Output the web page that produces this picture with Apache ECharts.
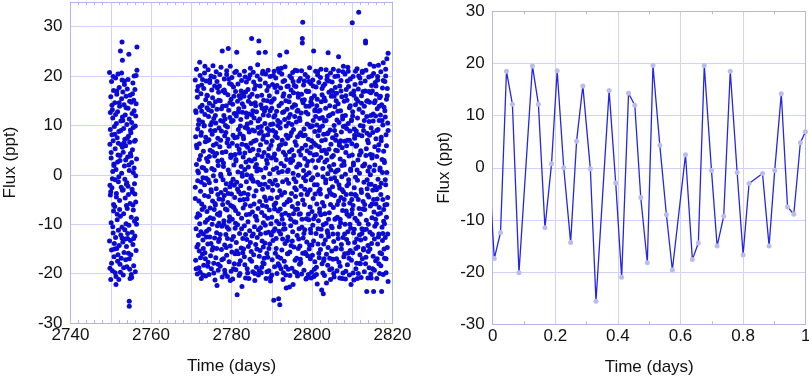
<!DOCTYPE html>
<html>
<head>
<meta charset="utf-8">
<script src="https://cdn.jsdelivr.net/npm/echarts@6.0.0/dist/echarts.min.js"></script>
<style>
  html, body { margin: 0; padding: 0; background: #fff; }
  #chart { width: 809px; height: 378px; }
</style>
</head>
<body>
<div id="chart"></div>
<script>
// left panel, first block of observations (days, ppt)
const sector1Time = [
  2749.7,2749.7,2749.8,2749.8,2749.9,2749.9,
  2750.0,2750.0,2750.1,2750.1,2750.2,2750.2,2750.3,2750.3,2750.4,2750.4,2750.5,2750.5,2750.6,2750.6,2750.7,2750.7,2750.8,2750.8,2750.9,2750.9,
  2751.0,2751.0,2751.1,2751.1,2751.2,2751.2,2751.3,2751.3,2751.4,2751.4,2751.5,2751.5,2751.6,2751.6,2751.7,2751.7,2751.8,2751.8,2751.9,2751.9,
  2752.0,2752.0,2752.1,2752.1,2752.2,2752.2,2752.3,2752.3,2752.4,2752.4,2752.5,2752.5,2752.6,2752.6,2752.7,2752.7,2752.8,2752.8,2752.9,2752.9,
  2753.0,2753.0,2753.1,2753.1,2753.2,2753.2,2753.3,2753.3,2753.4,2753.4,2753.5,2753.5,2753.6,2753.6,2753.7,2753.7,2753.8,2753.8,2753.9,2753.9,
  2754.0,2754.0,2754.1,2754.1,2754.2,2754.2,2754.3,2754.3,2754.4,2754.4,2754.5,2754.5,2754.6,2754.6,2754.7,2754.7,2754.8,2754.8,2754.9,2754.9,
  2755.0,2755.0,2755.1,2755.1,2755.2,2755.2,2755.3,2755.3,2755.4,2755.4,2755.5,2755.5,2755.6,2755.6,2755.7,2755.7,2755.8,2755.8,2755.9,2755.9,
  2756.0,2756.0,2756.1,2756.1,2756.2,2756.2,2756.3,2756.3,2756.4,2756.4,2756.5,2756.5,
  2752.8,2752.9,2754.6,2754.6,
  2749.8,2749.9,
  2750.0,2750.1,2750.2,2750.3,2750.4,2750.5,2750.6,2750.7,2750.8,2750.9,
  2751.0,2751.1,2751.2,2751.3,2751.4,2751.5,2751.6,2751.7,2751.8,2751.9,
  2752.0,2752.1,2752.2,2752.3,2752.4,2752.5,2752.6,2752.7,2752.8,2752.9,
  2753.0,2753.1,2753.2,2753.3,2753.4,2753.5,2753.6,2753.7,2753.8,2753.9,
  2754.0,2754.1,2754.2,2754.3,2754.4,2754.5,2754.6,2754.7,2754.8,2754.9,
  2755.0,2755.1,2755.2,2755.3,2755.4,2755.5,2755.6,2755.7,2755.8,2755.9,
  2756.0,2756.1,2756.2,2756.3,2756.4
];
const sector1Flux = [
  20.7,-13.4,6.2,-18.9,-4.1,12.6,
  -21.2,15.8,3.4,-9.7,18.9,-15.2,8.1,-2.6,13.2,-19.4,0.7,11.5,-11.8,6.9,-7.3,17.1,-16.6,2.2,9.8,-13.9,
  14.6,-6.4,-19.8,5.3,19.6,-12.7,1.1,-22.2,10.4,-3.8,16.3,-14.9,7.5,-9.1,12.8,-17.5,4.0,20.4,-1.4,-11.2,
  -21.2,8.8,-14.3,17.7,-5.2,13.9,-18.1,2.9,25.1,-8.4,10.9,-12.2,6.1,-16.9,15.4,0.3,-10.6,19.2,-3.1,11.7,
  -13.6,16.8,4.6,-20.3,9.4,-7.9,14.2,-15.7,1.8,18.3,-11.1,7.2,-4.7,12.1,-17.2,5.9,-9.9,15.9,-1.9,-14.5,
  10.2,-18.6,17.4,-6.8,3.6,-12.9,13.5,-2.3,7.8,-15.9,24.4,-10.2,0.9,11.3,-19.1,6.6,-5.8,16.1,-13.3,9.1,
  -16.2,8.5,-8.6,14.7,-20.8,2.5,12.4,-11.6,5.1,-3.5,18.6,-14.1,9.6,-7.1,15.1,-18.4,1.4,13.0,-9.4,6.8,
  -12.4,17.3,-19.6,7.0,11.9,-5.5,20.1,-15.3,3.2,-8.9,21.2,25.9,
  26.9,23.2,-25.6,-26.6,
  -2.1,9.2,
  -3.4,4.5,-17.9,14.1,-0.8,-10.5,19.9,-6.0,1.9,-15.0,
  8.2,-1.0,12.2,-20.6,-4.5,17.0,-8.0,2.6,-16.2,6.4,
  -0.4,14.6,-7.0,3.9,-19.7,9.0,-2.5,20.6,-12.8,5.6,
  11.0,-3.0,-18.8,6.5,19.0,-0.9,-13.0,3.0,13.6,-6.2,
  -1.6,7.4,-11.9,19.3,-4.0,2.0,-17.0,14.9,-21.0,4.3,
  3.8,-20.2,10.6,-2.9,16.4,-6.1,0.5,-12.9,20.0,-1.8,
  -3.9,9.9,-0.2,14.4,-10.0
];

// left panel, second block of observations
const sector2Time = [
  2771.0,2771.0,2771.1,2771.1,2771.2,2771.2,2771.3,2771.3,2771.4,2771.4,2771.5,2771.5,2771.6,2771.6,2771.7,2771.7,2771.8,2771.8,2771.9,2771.9,
  2772.0,2772.0,2772.1,2772.1,2772.2,2772.2,2772.3,2772.3,2772.4,2772.4,2772.5,2772.5,2772.6,2772.6,2772.7,2772.7,2772.8,2772.8,2772.9,2772.9,
  2773.0,2773.0,2773.1,2773.1,2773.2,2773.2,2773.3,2773.3,2773.4,2773.4,2773.5,2773.5,2773.6,2773.6,2773.7,2773.7,2773.8,2773.8,2773.9,2773.9,
  2774.0,2774.0,2774.1,2774.1,2774.2,2774.2,2774.3,2774.3,2774.4,2774.4,2774.5,2774.5,2774.6,2774.6,2774.7,2774.7,2774.8,2774.8,2774.9,2774.9,
  2775.0,2775.0,2775.1,2775.1,2775.2,2775.2,2775.3,2775.3,2775.4,2775.4,2775.5,2775.5,2775.6,2775.6,2775.7,2775.7,2775.8,2775.8,2775.9,2775.9,
  2776.0,2776.0,2776.1,2776.1,2776.2,2776.2,2776.3,2776.3,2776.4,2776.4,2776.5,2776.5,2776.6,2776.6,2776.7,2776.7,2776.8,2776.8,2776.9,2776.9,
  2777.0,2777.0,2777.1,2777.1,2777.2,2777.2,2777.3,2777.3,2777.4,2777.4,2777.5,2777.5,2777.6,2777.6,2777.7,2777.7,2777.8,2777.8,2777.9,2777.9,
  2778.0,2778.0,2778.1,2778.1,2778.2,2778.2,2778.3,2778.3,2778.4,2778.4,2778.5,2778.5,2778.6,2778.6,2778.7,2778.7,2778.8,2778.8,2778.9,2778.9,
  2779.0,2779.0,2779.1,2779.1,2779.2,2779.2,2779.3,2779.3,2779.4,2779.4,2779.5,2779.5,2779.6,2779.6,2779.7,2779.7,2779.8,2779.8,2779.9,2779.9,
  2780.0,2780.0,2780.1,2780.1,2780.2,2780.2,2780.3,2780.3,2780.4,2780.4,2780.5,2780.5,2780.6,2780.6,2780.7,2780.7,2780.8,2780.8,2780.9,2780.9,
  2781.0,2781.0,2781.1,2781.1,2781.2,2781.2,2781.3,2781.3,2781.4,2781.4,2781.5,2781.5,2781.6,2781.6,2781.7,2781.7,2781.8,2781.8,2781.9,2781.9,
  2782.0,2782.0,2782.1,2782.1,2782.2,2782.2,2782.3,2782.3,2782.4,2782.4,2782.5,2782.5,2782.6,2782.6,2782.7,2782.7,2782.8,2782.8,2782.9,2782.9,
  2783.0,2783.0,2783.1,2783.1,2783.2,2783.2,2783.3,2783.3,2783.4,2783.4,2783.5,2783.5,2783.6,2783.6,2783.7,2783.7,2783.8,2783.8,2783.9,2783.9,
  2784.0,2784.0,2784.1,2784.1,2784.2,2784.2,2784.3,2784.3,2784.4,2784.4,2784.5,2784.5,2784.6,2784.6,2784.7,2784.7,2784.8,2784.8,2784.9,2784.9,
  2785.0,2785.0,2785.1,2785.1,2785.2,2785.2,2785.3,2785.3,2785.4,2785.4,2785.5,2785.5,2785.6,2785.6,2785.7,2785.7,2785.8,2785.8,2785.9,2785.9,
  2786.0,2786.0,2786.1,2786.1,2786.2,2786.2,2786.3,2786.3,2786.4,2786.4,2786.5,2786.5,2786.6,2786.6,2786.7,2786.7,2786.8,2786.8,2786.9,2786.9,
  2787.0,2787.0,2787.1,2787.1,2787.2,2787.2,2787.3,2787.3,2787.4,2787.4,2787.5,2787.5,2787.6,2787.6,2787.7,2787.7,2787.8,2787.8,2787.9,2787.9,
  2788.0,2788.0,2788.1,2788.1,2788.2,2788.2,2788.3,2788.3,2788.4,2788.4,2788.5,2788.5,2788.6,2788.6,2788.7,2788.7,2788.8,2788.8,2788.9,2788.9,
  2789.0,2789.0,2789.1,2789.1,2789.2,2789.2,2789.3,2789.3,2789.4,2789.4,2789.5,2789.5,2789.6,2789.6,2789.7,2789.7,2789.8,2789.8,2789.9,2789.9,
  2790.0,2790.0,2790.1,2790.1,2790.2,2790.2,2790.3,2790.3,2790.4,2790.4,2790.5,2790.5,2790.6,2790.6,2790.7,2790.7,2790.8,2790.8,2790.9,2790.9,
  2791.0,2791.0,2791.1,2791.1,2791.2,2791.2,2791.3,2791.3,2791.4,2791.4,2791.5,2791.5,2791.6,2791.6,2791.7,2791.7,2791.8,2791.8,2791.9,2791.9,
  2792.0,2792.0,2792.1,2792.1,2792.2,2792.2,2792.3,2792.3,2792.4,2792.4,2792.5,2792.5,2792.6,2792.6,2792.7,2792.7,2792.8,2792.8,2792.9,2792.9,
  2793.0,2793.0,2793.1,2793.1,2793.2,2793.2,2793.3,2793.3,2793.4,2793.4,2793.5,2793.5,2793.6,2793.6,2793.7,2793.7,2793.8,2793.8,2793.9,2793.9,
  2794.0,2794.0,2794.1,2794.1,2794.2,2794.2,2794.3,2794.3,2794.4,2794.4,2794.5,2794.5,2794.6,2794.6,2794.7,2794.7,2794.8,2794.8,2794.9,2794.9,
  2795.0,2795.0,2795.1,2795.1,2795.2,2795.2,2795.3,2795.3,2795.4,2795.4,2795.5,2795.5,2795.6,2795.6,2795.7,2795.7,2795.8,2795.8,2795.9,2795.9,
  2796.0,2796.0,2796.1,2796.1,2796.2,2796.2,2796.3,2796.3,2796.4,2796.4,2796.5,2796.5,2796.6,2796.6,2796.7,2796.7,2796.8,2796.8,2796.9,2796.9,
  2797.0,2797.0,2797.1,2797.1,2797.2,2797.2,2797.3,2797.3,2797.4,2797.4,2797.5,2797.5,2797.6,2797.6,2797.7,2797.7,2797.8,2797.8,2797.9,2797.9,
  2798.0,2798.0,2798.1,2798.1,2798.2,2798.2,2798.3,2798.3,2798.4,2798.4,2798.5,2798.5,2798.6,2798.6,2798.7,2798.7,2798.8,2798.8,2798.9,2798.9,
  2799.0,2799.0,2799.1,2799.1,2799.2,2799.2,2799.3,2799.3,2799.4,2799.4,2799.5,2799.5,2799.6,2799.6,2799.7,2799.7,2799.8,2799.8,2799.9,2799.9,
  2800.0,2800.0,2800.1,2800.1,2800.2,2800.2,2800.3,2800.3,2800.4,2800.4,2800.5,2800.5,2800.6,2800.6,2800.7,2800.7,2800.8,2800.8,2800.9,2800.9,
  2801.0,2801.0,2801.1,2801.1,2801.2,2801.2,2801.3,2801.3,2801.4,2801.4,2801.5,2801.5,2801.6,2801.6,2801.7,2801.7,2801.8,2801.8,2801.9,2801.9,
  2802.0,2802.0,2802.1,2802.1,2802.2,2802.2,2802.3,2802.3,2802.4,2802.4,2802.5,2802.5,2802.6,2802.6,2802.7,2802.7,2802.8,2802.8,2802.9,2802.9,
  2803.0,2803.0,2803.1,2803.1,2803.2,2803.2,2803.3,2803.3,2803.4,2803.4,2803.5,2803.5,2803.6,2803.6,2803.7,2803.7,2803.8,2803.8,2803.9,2803.9,
  2804.0,2804.0,2804.1,2804.1,2804.2,2804.2,2804.3,2804.3,2804.4,2804.4,2804.5,2804.5,2804.6,2804.6,2804.7,2804.7,2804.8,2804.8,2804.9,2804.9,
  2805.0,2805.0,2805.1,2805.1,2805.2,2805.2,2805.3,2805.3,2805.4,2805.4,2805.5,2805.5,2805.6,2805.6,2805.7,2805.7,2805.8,2805.8,2805.9,2805.9,
  2806.0,2806.0,2806.1,2806.1,2806.2,2806.2,2806.3,2806.3,2806.4,2806.4,2806.5,2806.5,2806.6,2806.6,2806.7,2806.7,2806.8,2806.8,2806.9,2806.9,
  2807.0,2807.0,2807.1,2807.1,2807.2,2807.2,2807.3,2807.3,2807.4,2807.4,2807.5,2807.5,2807.6,2807.6,2807.7,2807.7,2807.8,2807.8,2807.9,2807.9,
  2808.0,2808.0,2808.1,2808.1,2808.2,2808.2,2808.3,2808.3,2808.4,2808.4,2808.5,2808.5,2808.6,2808.6,2808.7,2808.7,2808.8,2808.8,2808.9,2808.9,
  2809.0,2809.0,2809.1,2809.1,2809.2,2809.2,2809.3,2809.3,2809.4,2809.4,2809.5,2809.5,2809.6,2809.6,2809.7,2809.7,2809.8,2809.8,2809.9,2809.9,
  2810.0,2810.0,2810.1,2810.1,2810.2,2810.2,2810.3,2810.3,2810.4,2810.4,2810.5,2810.5,2810.6,2810.6,2810.7,2810.7,2810.8,2810.8,2810.9,2810.9,
  2811.0,2811.0,2811.1,2811.1,2811.2,2811.2,2811.3,2811.3,2811.4,2811.4,2811.5,2811.5,2811.6,2811.6,2811.7,2811.7,2811.8,2811.8,2811.9,2811.9,
  2812.0,2812.0,2812.1,2812.1,2812.2,2812.2,2812.3,2812.3,2812.4,2812.4,2812.5,2812.5,2812.6,2812.6,2812.7,2812.7,2812.8,2812.8,2812.9,2812.9,
  2813.0,2813.0,2813.1,2813.1,2813.2,2813.2,2813.3,2813.3,2813.4,2813.4,2813.5,2813.5,2813.6,2813.6,2813.7,2813.7,2813.8,2813.8,2813.9,2813.9,
  2814.0,2814.0,2814.1,2814.1,2814.2,2814.2,2814.3,2814.3,2814.4,2814.4,2814.5,2814.5,2814.6,2814.6,2814.7,2814.7,2814.8,2814.8,2814.9,2814.9,
  2815.0,2815.0,2815.1,2815.1,2815.2,2815.2,2815.3,2815.3,2815.4,2815.4,2815.5,2815.5,2815.6,2815.6,2815.7,2815.7,2815.8,2815.8,2815.9,2815.9,
  2816.0,2816.0,2816.1,2816.1,2816.2,2816.2,2816.3,2816.3,2816.4,2816.4,2816.5,2816.5,2816.6,2816.6,2816.7,2816.7,2816.8,2816.8,2816.9,2816.9,
  2817.0,2817.0,2817.1,2817.1,2817.2,2817.2,2817.3,2817.3,2817.4,2817.4,2817.5,2817.5,2817.6,2817.6,2817.7,2817.7,2817.8,2817.8,2817.9,2817.9,
  2818.0,2818.0,2818.1,2818.1,2818.2,2818.2,2818.3,2818.3,2818.4,2818.4,2818.5,2818.5,2818.6,2818.6,2818.7,2818.7,2818.8,2818.8,2818.9,2818.9
];
const sector2Flux = [
  19.2,-4.8,7.7,-17.3,12.6,-10.9,2.1,21.4,-14.6,5.5,-20.1,15.7,-1.2,9.3,-7.9,17.9,-12.3,0.4,-18.8,11.1,
  -15.4,6.3,22.8,-8.2,13.7,-19.7,3.9,-3.3,16.4,-11.5,8.6,-21.0,18.2,-5.9,1.5,14.1,-16.1,10.7,-0.6,-13.2,
  4.8,-12.0,17.5,-18.3,9.9,-6.5,20.6,-2.0,12.2,-15.8,6.7,-9.6,15.2,-20.5,0.9,19.0,-11.4,3.3,-7.4,13.6,
  -9.1,16.0,-14.0,2.7,21.3,-17.7,11.8,-4.4,7.1,-20.2,14.5,-1.6,18.7,-12.6,5.0,-8.7,10.1,-16.4,20.0,-3.0,
  12.9,-19.0,1.3,17.2,-10.0,8.2,-5.3,15.6,-14.7,22.1,-0.2,6.0,-17.9,11.4,-7.0,19.8,-12.8,3.8,-21.3,9.0,
  -6.1,14.8,-16.8,10.5,-2.8,20.9,-11.7,4.3,-22.4,13.3,-8.0,17.6,-4.0,7.4,-19.3,1.9,16.7,-13.5,9.5,-9.8,
  18.0,-13.0,5.7,-7.7,15.0,-18.5,0.1,11.0,-3.6,21.8,-15.1,8.9,-10.4,3.0,25.1,-20.7,13.9,-5.0,17.0,-1.0,
  -17.0,2.4,12.0,-9.3,19.4,-4.2,7.9,-14.2,16.6,-20.0,10.0,-6.9,4.7,-12.1,14.0,-1.8,20.3,-16.3,6.5,-10.6,
  9.7,-20.6,16.2,-5.6,1.0,25.6,-11.0,13.1,-17.6,5.8,-8.5,18.5,-2.4,11.6,-14.4,22.0,-6.2,3.5,-19.5,15.3,
  -3.9,10.8,-15.6,19.7,-9.0,6.4,-21.1,14.3,-0.9,8.0,-12.5,17.8,-6.6,2.0,-18.0,12.4,-4.6,20.7,-10.8,4.1,
  16.9,-7.2,3.1,-19.2,11.9,-13.7,24.8,-1.5,7.6,-24.3,14.9,-10.1,0.6,18.4,-16.0,9.2,-3.4,13.4,-20.4,5.2,
  -11.9,20.2,-5.1,8.3,-17.4,15.5,-2.2,11.2,-14.8,1.7,19.1,-8.8,6.2,-22.6,12.7,-0.3,16.5,-12.9,3.6,-6.7,
  7.3,-15.0,13.8,-3.7,21.0,-10.3,4.4,-18.2,9.6,-6.0,16.8,-20.9,2.6,12.5,-8.1,18.8,-13.1,0.0,-4.9,10.3,
  -19.9,5.6,17.3,-9.5,1.6,-14.5,12.3,19.5,-2.7,8.7,-11.3,15.8,-17.1,4.9,-6.3,21.6,-0.7,10.6,-15.5,14.4,
  2.8,27.6,-12.4,16.3,-7.5,9.1,-19.6,13.0,-1.3,20.8,-16.2,6.8,-4.3,11.5,-10.5,17.4,-21.4,3.2,14.6,-8.4,
  -14.1,18.1,-3.2,7.0,-18.7,12.8,0.8,-9.2,15.9,-12.7,4.0,22.3,-6.8,10.9,-20.3,1.2,27.1,24.7,-16.5,8.4,
  11.3,-5.4,19.3,-15.3,6.1,-10.7,14.2,-1.9,9.8,-19.8,16.1,-7.6,3.7,-13.4,20.5,-2.9,7.2,-17.8,12.1,-9.7,
  -0.5,15.1,-18.0,4.5,-8.3,-4.5,-13.8,10.4,24.8,18.6,-11.8,1.4,13.6,-21.0,6.6,-6.4,17.1,-15.9,9.4,2.3,
  -16.7,8.1,-2.5,21.2,-11.6,12.0,-19.4,5.3,16.0,-7.1,0.2,-14.0,19.9,-4.7,10.2,-20.8,14.7,-9.9,3.4,-12.2,
  13.5,-8.6,6.9,-17.2,18.3,-3.1,9.0,-13.3,1.1,20.1,-25.4,11.7,-6.1,15.4,-18.6,4.2,-10.9,17.7,-1.1,7.8,
  -5.7,19.6,-14.9,3.0,12.9,-9.4,16.8,-20.0,7.5,-2.1,10.0,-16.6,21.5,-7.3,0.5,-25.1,14.0,-11.4,5.9,-18.4,
  -26.3,24.2,9.5,-6.9,17.6,-12.0,2.3,-19.0,14.5,-4.1,20.4,-15.2,7.0,-9.0,12.6,-1.4,18.9,-21.2,4.6,-11.0,
  16.4,-10.0,1.8,-17.5,11.2,-3.6,21.9,-13.9,6.3,-7.8,15.0,-20.3,9.9,-22.9,3.1,24.9,-5.5,13.3,-16.0,0.7,
  -12.6,7.4,-19.1,18.0,-1.7,10.5,-8.2,14.8,-22.7,4.7,-15.6,20.0,-5.2,12.2,-10.3,2.5,17.2,-14.3,8.6,-3.8,
  5.1,-18.9,13.7,-6.4,20.7,-11.5,0.3,-22.2,9.2,16.6,-14.6,3.9,-9.5,18.1,-2.6,11.8,-17.3,6.7,-7.0,14.1,
  -9.6,17.9,-3.0,10.7,-16.9,1.6,21.1,-12.3,7.7,-20.5,13.1,-5.8,15.7,-0.1,-13.0,19.0,-8.0,4.8,-18.1,11.5,
  2.0,-14.4,19.5,-7.9,8.5,-17.8,12.5,-2.3,16.3,-20.1,5.4,-10.6,26.7,27.6,30.9,-5.1,14.6,-12.8,0.9,18.2,
  -19.3,9.3,-6.0,15.2,-11.1,3.3,20.3,-15.7,6.0,-1.2,12.7,-21.1,17.0,-8.9,1.9,-13.6,10.3,-4.0,19.8,-16.4,
  12.3,-3.5,7.2,-20.2,16.9,-9.1,0.4,13.9,-14.2,21.7,-6.5,4.4,-17.0,9.7,-11.7,18.5,-1.0,5.6,-19.7,15.5,
  -7.4,14.3,-16.3,2.9,19.2,-10.2,11.0,-4.8,25.1,-13.4,6.4,-20.6,16.0,-2.0,8.8,-17.6,13.2,-8.3,1.5,21.0,
  17.8,-11.9,4.1,-18.7,10.1,-5.9,15.3,-22.1,0.0,20.2,-14.0,7.9,-9.3,12.9,-3.3,18.7,-16.8,5.7,-7.6,11.4,
  -2.9,9.6,-15.1,19.7,-8.1,3.5,14.8,-12.4,-23.3,6.9,16.2,17.5,-5.6,11.6,-19.9,1.3,-24.1,-10.1,8.2,-17.4,
  15.6,-6.3,10.9,-20.4,2.6,18.4,-13.2,7.1,-1.6,13.5,-9.8,21.3,-16.1,4.3,-4.4,19.3,-11.3,8.3,-18.3,0.2,
  24.7,-14.7,11.9,-12.5,5.2,16.7,-7.7,1.7,-19.2,14.0,-3.7,9.1,-21.2,20.6,-0.8,6.2,-10.4,17.1,-15.4,3.6,
  -10.7,18.8,-2.4,7.5,-17.1,12.4,-6.6,21.4,-13.5,2.1,15.9,-20.7,9.0,-4.2,13.8,-9.0,0.6,17.7,-15.0,5.0,
  8.0,-14.8,16.5,-1.3,11.1,-19.4,4.9,-8.6,20.0,-12.0,1.0,14.4,-5.3,23.9,-17.7,10.6,-10.5,6.5,-2.7,18.0,
  -18.5,3.2,-9.7,13.0,-4.6,19.1,-14.1,8.7,-0.4,15.8,-21.0,5.5,-7.2,11.3,-12.7,20.9,-3.4,9.8,-16.6,2.7,
  14.9,-5.0,6.8,-16.0,20.4,-10.0,0.1,12.0,-19.5,4.5,-7.3,17.3,-13.1,9.4,-2.2,15.1,-18.2,7.0,-11.5,21.8,
  -13.8,10.4,-1.8,17.9,-8.4,3.8,-20.3,13.6,-5.7,8.9,19.4,-15.3,1.2,-10.8,16.4,-3.9,11.0,-17.3,6.3,-7.9,
  30.8,4.0,-15.8,12.8,-6.2,19.9,-11.8,2.4,-21.3,16.1,-2.6,9.3,-13.7,7.4,-8.8,18.3,-0.5,14.2,-19.0,5.8,
  -4.3,15.4,-17.9,6.0,-9.3,21.5,-1.1,11.5,-14.6,3.0,17.4,-20.0,8.1,32.9,-6.8,13.3,-12.2,0.3,19.6,-16.2,
  10.0,-8.0,18.6,-13.2,4.6,-20.8,14.5,-3.6,7.9,-10.9,20.7,-17.0,1.8,12.6,-5.4,16.9,-15.2,9.0,-1.5,-11.1,
  -19.6,13.9,-7.0,2.2,17.0,-12.9,27.1,26.7,21.2,-16.7,5.3,-9.2,11.8,-23.6,8.4,-2.8,-4.1,15.0,-14.3,0.8,
  6.5,-15.5,19.8,-4.5,10.8,-18.8,1.6,14.7,-11.6,22.4,-6.3,4.1,-20.1,16.6,-1.9,9.5,-13.9,18.1,-8.7,3.4,
  -12.1,17.0,-3.1,8.6,-16.5,12.3,-23.6,20.5,-7.5,0.9,14.6,-19.3,5.7,-10.4,18.7,-2.3,11.9,-17.4,7.3,-5.9,
  16.3,-9.9,3.7,-21.0,13.4,-4.9,19.2,-14.0,9.2,-0.9,22.2,-12.6,6.1,-18.0,11.0,-6.6,15.6,-2.5,-15.8,1.4,
  -7.8,12.1,-18.4,20.9,-1.7,7.6,-23.6,14.2,-10.6,3.1,17.6,-13.3,10.1,-5.0,22.7,-20.2,4.8,-9.4,13.7,-15.0,
  2.5,-16.9,18.9,-6.1,11.7,-12.7,21.4,-2.0,8.1,-19.8,15.3,-8.6,23.5,0.5,-14.7,17.5,-4.6,10.5,-21.6,24.6
];

// left panel, second block, remaining observations (one per 0.1 day)
const sector2TimeB = [
  2771.0,2771.1,2771.2,2771.3,2771.4,2771.5,2771.6,2771.7,2771.8,2771.9,
  2772.0,2772.1,2772.2,2772.3,2772.4,2772.5,2772.6,2772.7,2772.8,2772.9,
  2773.0,2773.1,2773.2,2773.3,2773.4,2773.5,2773.6,2773.7,2773.8,2773.9,
  2774.0,2774.1,2774.2,2774.3,2774.4,2774.5,2774.6,2774.7,2774.8,2774.9,
  2775.0,2775.1,2775.2,2775.3,2775.4,2775.5,2775.6,2775.7,2775.8,2775.9,
  2776.0,2776.1,2776.2,2776.3,2776.4,2776.5,2776.6,2776.7,2776.8,2776.9,
  2777.0,2777.1,2777.2,2777.3,2777.4,2777.5,2777.6,2777.7,2777.8,2777.9,
  2778.0,2778.1,2778.2,2778.3,2778.4,2778.5,2778.6,2778.7,2778.8,2778.9,
  2779.0,2779.1,2779.2,2779.3,2779.4,2779.5,2779.6,2779.7,2779.8,2779.9,
  2780.0,2780.1,2780.2,2780.3,2780.4,2780.5,2780.6,2780.7,2780.8,2780.9,
  2781.0,2781.1,2781.2,2781.3,2781.4,2781.5,2781.6,2781.7,2781.8,2781.9,
  2782.0,2782.1,2782.2,2782.3,2782.4,2782.5,2782.6,2782.7,2782.8,2782.9,
  2783.0,2783.1,2783.2,2783.3,2783.4,2783.5,2783.6,2783.7,2783.8,2783.9,
  2784.0,2784.1,2784.2,2784.3,2784.4,2784.5,2784.6,2784.7,2784.8,2784.9,
  2785.0,2785.1,2785.2,2785.3,2785.4,2785.5,2785.6,2785.7,2785.8,2785.9,
  2786.0,2786.1,2786.2,2786.3,2786.4,2786.5,2786.6,2786.7,2786.8,2786.9,
  2787.0,2787.1,2787.2,2787.3,2787.4,2787.5,2787.6,2787.7,2787.8,2787.9,
  2788.0,2788.1,2788.2,2788.3,2788.4,2788.5,2788.6,2788.7,2788.8,2788.9,
  2789.0,2789.1,2789.2,2789.3,2789.4,2789.5,2789.6,2789.7,2789.8,2789.9,
  2790.0,2790.1,2790.2,2790.3,2790.4,2790.5,2790.6,2790.7,2790.8,2790.9,
  2791.0,2791.1,2791.2,2791.3,2791.4,2791.5,2791.6,2791.7,2791.8,2791.9,
  2792.0,2792.1,2792.2,2792.3,2792.4,2792.5,2792.6,2792.7,2792.8,2792.9,
  2793.0,2793.1,2793.2,2793.3,2793.4,2793.5,2793.6,2793.7,2793.8,2793.9,
  2794.0,2794.1,2794.2,2794.3,2794.4,2794.5,2794.6,2794.7,2794.8,2794.9,
  2795.0,2795.1,2795.2,2795.3,2795.4,2795.5,2795.6,2795.7,2795.8,2795.9,
  2796.0,2796.1,2796.2,2796.3,2796.4,2796.5,2796.6,2796.7,2796.8,2796.9,
  2797.0,2797.1,2797.2,2797.3,2797.4,2797.5,2797.6,2797.7,2797.8,2797.9,
  2798.0,2798.1,2798.2,2798.3,2798.4,2798.5,2798.6,2798.7,2798.8,2798.9,
  2799.0,2799.1,2799.2,2799.3,2799.4,2799.5,2799.6,2799.7,2799.8,2799.9,
  2800.0,2800.1,2800.2,2800.3,2800.4,2800.5,2800.6,2800.7,2800.8,2800.9,
  2801.0,2801.1,2801.2,2801.3,2801.4,2801.5,2801.6,2801.7,2801.8,2801.9,
  2802.0,2802.1,2802.2,2802.3,2802.4,2802.5,2802.6,2802.7,2802.8,2802.9,
  2803.0,2803.1,2803.2,2803.3,2803.4,2803.5,2803.6,2803.7,2803.8,2803.9,
  2804.0,2804.1,2804.2,2804.3,2804.4,2804.5,2804.6,2804.7,2804.8,2804.9,
  2805.0,2805.1,2805.2,2805.3,2805.4,2805.5,2805.6,2805.7,2805.8,2805.9,
  2806.0,2806.1,2806.2,2806.3,2806.4,2806.5,2806.6,2806.7,2806.8,2806.9,
  2807.0,2807.1,2807.2,2807.3,2807.4,2807.5,2807.6,2807.7,2807.8,2807.9,
  2808.0,2808.1,2808.2,2808.3,2808.4,2808.5,2808.6,2808.7,2808.8,2808.9,
  2809.0,2809.1,2809.2,2809.3,2809.4,2809.5,2809.6,2809.7,2809.8,2809.9,
  2810.0,2810.1,2810.2,2810.3,2810.4,2810.5,2810.6,2810.7,2810.8,2810.9,
  2811.0,2811.1,2811.2,2811.3,2811.4,2811.5,2811.6,2811.7,2811.8,2811.9,
  2812.0,2812.1,2812.2,2812.3,2812.4,2812.5,2812.6,2812.7,2812.8,2812.9,
  2813.0,2813.1,2813.2,2813.3,2813.4,2813.5,2813.6,2813.7,2813.8,2813.9,
  2814.0,2814.1,2814.2,2814.3,2814.4,2814.5,2814.6,2814.7,2814.8,2814.9,
  2815.0,2815.1,2815.2,2815.3,2815.4,2815.5,2815.6,2815.7,2815.8,2815.9,
  2816.0,2816.1,2816.2,2816.3,2816.4,2816.5,2816.6,2816.7,2816.8,2816.9,
  2817.0,2817.1,2817.2,2817.3,2817.4,2817.5,2817.6,2817.7,2817.8,2817.9,
  2818.0,2818.1,2818.2,2818.3,2818.4,2818.5,2818.6,2818.7,2818.8,2818.9
];
const sector2FluxB = [
  -2.5,13.0,-19.0,6.0,-8.6,17.1,0.8,-14.1,10.2,-5.3,
  3.1,-9.9,20.1,-16.8,8.0,-1.5,12.9,-7.0,19.3,-20.3,
  -14.9,1.4,10.0,-4.2,22.0,-17.0,7.6,-0.7,-12.6,16.1,
  6.9,-18.5,-1.0,13.2,-11.0,3.7,19.2,-6.7,9.0,-13.9,
  -3.4,10.6,-15.2,4.7,14.0,-8.9,-19.9,1.0,18.0,-5.8,
  12.0,-1.2,6.3,-14.9,18.9,-10.3,2.8,-18.1,15.1,-4.9,
  -8.2,20.3,-12.1,7.0,-0.3,13.4,-17.2,4.5,-6.0,10.8,
  1.7,-10.0,17.2,-19.3,11.3,-3.0,8.6,-14.7,21.1,-7.1,
  -12.9,7.2,-3.8,19.4,-9.4,0.2,14.6,-21.4,4.0,-1.6,
  18.3,-13.1,3.9,-6.4,11.0,-19.0,15.9,-2.1,7.5,-16.0,
  -9.8,2.8,21.0,-15.4,5.9,-2.9,12.7,-7.9,-18.1,16.0,
  4.4,-20.0,9.9,-3.9,17.0,-10.9,0.3,14.4,-15.8,7.8,
  -5.0,15.9,-16.6,1.1,19.8,-12.1,6.0,-1.4,11.7,-19.0,
  9.4,-4.0,14.9,-21.0,3.0,-8.0,20.2,-13.7,6.4,-0.2,
  -17.5,12.1,-0.9,5.2,-12.0,18.8,-5.9,8.9,-20.0,1.6,
  14.0,-8.5,2.1,-15.0,20.0,-1.5,9.6,-11.1,5.0,-19.4,
  -2.0,18.0,-12.0,1.0,8.8,-18.7,13.5,-6.2,21.0,-14.6,
  7.9,-16.9,12.9,-1.9,-10.2,20.4,-5.2,3.0,-19.6,15.0,
  -8.8,3.9,17.9,-14.9,9.0,-1.3,13.0,-21.5,6.0,-4.8,
  -20.3,15.0,-1.8,10.3,-11.4,3.6,21.0,-6.9,12.0,-15.9,
  8.6,-12.9,1.4,18.1,-4.6,11.0,-18.0,5.2,-9.9,20.8,
  -3.2,10.6,-16.9,6.1,21.6,-8.1,0.7,-13.0,15.9,-19.8,
  12.8,-6.0,19.1,-10.9,4.0,-18.6,8.0,-1.0,17.9,-13.3,
  -16.0,1.0,11.6,-5.0,15.9,-20.4,7.9,-9.0,3.2,19.6,
  10.2,-13.4,2.9,18.9,-7.9,-0.8,14.2,-19.6,21.2,-4.4,
  -1.4,6.0,-19.8,12.9,-6.9,16.4,-14.9,2.2,-10.9,8.1,
  11.0,-17.1,4.0,-4.0,21.1,-9.0,15.1,-15.9,7.9,-0.6,
  -11.9,19.0,-2.9,8.0,-16.0,13.9,0.0,-20.9,4.9,16.9,
  2.7,-8.0,18.9,-15.0,10.0,-3.0,-11.0,14.8,-20.9,6.9,
  -14.2,9.9,-0.6,18.0,-8.9,4.0,-19.1,13.0,-3.9,11.8,
  6.0,-20.2,14.0,-2.0,20.9,-10.9,2.9,-15.9,9.0,-6.9,
  13.1,-3.9,21.4,-11.0,4.9,-18.0,9.9,-0.4,18.0,-14.0,
  -17.0,5.0,-7.9,15.0,-1.0,11.0,-21.9,3.0,20.0,-11.8,
  8.5,-9.0,19.0,-3.0,-16.9,12.1,-6.0,1.0,15.9,-19.0,
  -4.0,16.9,-12.0,3.9,-20.0,10.0,-0.6,19.9,-8.9,7.0,
  15.0,-17.0,0.9,-6.0,12.9,-12.9,21.1,-2.0,6.0,-20.9,
  -9.0,6.9,17.0,-15.0,1.9,-3.0,11.9,-19.9,22.0,-6.0,
  2.0,-12.0,9.9,-21.1,16.0,-4.0,5.9,-8.0,19.0,-15.9,
  21.0,-1.0,-16.9,7.0,-10.0,14.0,0.9,-22.2,11.1,-5.0,
  -7.0,11.9,-19.9,2.0,17.0,-11.0,8.0,-4.0,21.0,-14.9,
  8.9,-13.0,1.0,-21.0,14.9,-5.0,20.0,-9.9,4.0,-17.9,
  -18.0,4.9,-3.0,16.0,-11.9,21.0,-6.9,9.9,-14.9,1.9,
  11.0,-6.0,19.0,-18.0,3.9,-11.0,14.9,-1.0,7.0,-20.9,
  -10.0,16.9,-1.9,8.0,-15.0,0.0,12.0,-20.9,20.0,-5.9,
  4.0,-19.0,10.9,-5.0,22.0,-13.0,2.0,15.0,-9.0,18.0,
  -3.0,9.0,-17.0,19.9,-8.0,5.0,-12.0,13.9,-20.0,1.0,
  15.9,-4.0,6.9,-16.0,11.0,0.5,-11.9,19.1,-7.0,2.9,
  -9.9,13.0,-1.0,20.0,-17.0,5.9,-6.0,16.0,-12.0,9.0
];

// right panel: one day of the light curve
const dayTime = [-0.016, 0.005, 0.025, 0.044, 0.063, 0.084, 0.127, 0.146, 0.167, 0.188, 0.206, 0.227,
  0.249, 0.268, 0.288, 0.312, 0.330, 0.372, 0.393, 0.412, 0.434, 0.454, 0.473, 0.494, 0.512, 0.534,
  0.555, 0.574, 0.616, 0.638, 0.657, 0.676, 0.699, 0.717, 0.738, 0.759, 0.781, 0.800, 0.819, 0.862,
  0.883, 0.901, 0.922, 0.942, 0.962, 0.983, 0.999];
const dayFlux = [4.2, -17.4, -12.4, 18.5, 12.2, -20.1, 19.5, 12.2, -11.5, 0.8, 18.6, 0.0,
  -14.3, 5.1, 15.7, -0.2, -25.6, 14.8, -2.9, -21.0, 14.3, 12.0, -5.7, -18.2, 19.6, 4.3,
  -9.0, -19.6, 2.5, -17.6, -14.4, 19.6, -0.5, -15.0, -9.3, 18.5, -0.9, -16.7, -3.0, -1.1,
  -15.0, -0.5, 14.2, -7.5, -8.9, 4.8, 6.9];

const fluxTicks = [-30, -20, -10, 0, 10, 20, 30];

const borderColor = "#b4b4f2";
const gridColor = "#d2d2f8";
const dotColor = "#0b0bd4";
const textColor = "#111";
const fontFamily = "'Liberation Sans', Arial, sans-serif";

const pairs = (t, f) => t.map((v, i) => [v, f[i]]);

const myChart = echarts.init(document.getElementById("chart"), null, { renderer: "canvas" });

const baseX = (opt) => ({
  type: "value",
  nameLocation: "middle",
  nameGap: 35,
  nameTextStyle: { color: textColor, fontSize: 17, fontFamily },
  axisLine: { show: true, onZero: false, lineStyle: { color: borderColor, width: 1 } },
  axisTick: { show: false, inside: true },
  splitLine: { show: true, lineStyle: { color: gridColor, width: 1 } },
  ...opt,
});

const baseY = (opt) => ({
  type: "value",
  min: -30,
  interval: 10,
  nameLocation: "middle",
  nameRotate: 90,
  nameTextStyle: { color: textColor, fontSize: 17, fontFamily },
  axisLine: { show: true, onZero: false, lineStyle: { color: borderColor, width: 1 } },
  axisTick: { show: false },
  splitLine: { show: true, lineStyle: { color: gridColor, width: 1 } },
  axisLabel: {
    color: textColor, fontSize: 17, fontFamily, margin: 8,
    formatter: (v) => (fluxTicks.includes(v) ? String(v) : ""),
  },
  ...opt,
});

// frame axes on top / right that only carry the small inner ticks
const frameX = (opt) => ({
  type: "value",
  position: "top",
  axisLine: { show: true, onZero: false, lineStyle: { color: borderColor, width: 1 } },
  axisTick: { show: false, inside: true },
  axisLabel: { show: false },
  splitLine: { show: false },
  ...opt,
});

const frameY = (opt) => ({
  type: "value",
  position: "right",
  min: -30,
  interval: 10,
  axisLine: { show: true, onZero: false, lineStyle: { color: borderColor, width: 1 } },
  axisTick: { show: false },
  axisLabel: { show: false },
  splitLine: { show: false },
  ...opt,
});

myChart.setOption({
  animation: false,
  backgroundColor: "#fff",
  grid: [
    { left: 70.5, top: 2, width: 322, height: 321, outerBoundsMode: "none", containLabel: false },
    { left: 492.7, top: 11.3, width: 313, height: 313, outerBoundsMode: "none", containLabel: false },
  ],
  xAxis: [
    baseX({
      gridIndex: 0, min: 2740, max: 2820, interval: 10,
      name: "Time (days)",
      axisLabel: { color: textColor, fontSize: 17, fontFamily, margin: 4, formatter: (v) => (v % 20 === 0 ? String(v) : "") },
      minorTick: { show: true, splitNumber: 5, length: 3, lineStyle: { color: borderColor } },
    }),
    baseX({
      gridIndex: 1, min: 0, max: 1, interval: 0.2,
      name: "Time (days)",
      axisLabel: { color: textColor, fontSize: 17, fontFamily, margin: 4, formatter: (v) => String(+v.toFixed(1)) },
      minorTick: { show: true, splitNumber: 2, length: 3, lineStyle: { color: borderColor } },
    }),
    frameX({
      gridIndex: 0, min: 2740, max: 2820, interval: 10,
      minorTick: { show: true, splitNumber: 5, length: 3, lineStyle: { color: borderColor } },
    }),
    frameX({
      gridIndex: 1, min: 0, max: 1, interval: 0.2,
      minorTick: { show: true, splitNumber: 2, length: 3, lineStyle: { color: borderColor } },
    }),
  ],
  yAxis: [
    baseY({ gridIndex: 0, max: 35, name: "Flux (ppt)", nameGap: 52 }),
    baseY({ gridIndex: 1, max: 30, name: "Flux (ppt)", nameGap: 40 }),
    frameY({ gridIndex: 0, max: 35 }),
    frameY({ gridIndex: 1, max: 30 }),
  ],
  series: [
    {
      name: "sector 1",
      type: "scatter",
      xAxisIndex: 0,
      yAxisIndex: 0,
      symbolSize: 5,
      itemStyle: { color: dotColor, opacity: 1 },
      data: pairs(sector1Time, sector1Flux),
    },
    {
      name: "sector 2",
      type: "scatter",
      xAxisIndex: 0,
      yAxisIndex: 0,
      symbolSize: 5,
      itemStyle: { color: dotColor, opacity: 1 },
      data: pairs(sector2Time, sector2Flux).concat(pairs(sector2TimeB, sector2FluxB)),
    },
    {
      name: "one day",
      type: "line",
      xAxisIndex: 1,
      yAxisIndex: 1,
      clip: true,
      symbol: "circle",
      symbolSize: 5,
      showSymbol: true,
      itemStyle: { color: "#bcbcec" },
      lineStyle: { color: "#2626e2", width: 1.3 },
      data: pairs(dayTime, dayFlux),
    },
  ],
});
</script>
</body>
</html>
